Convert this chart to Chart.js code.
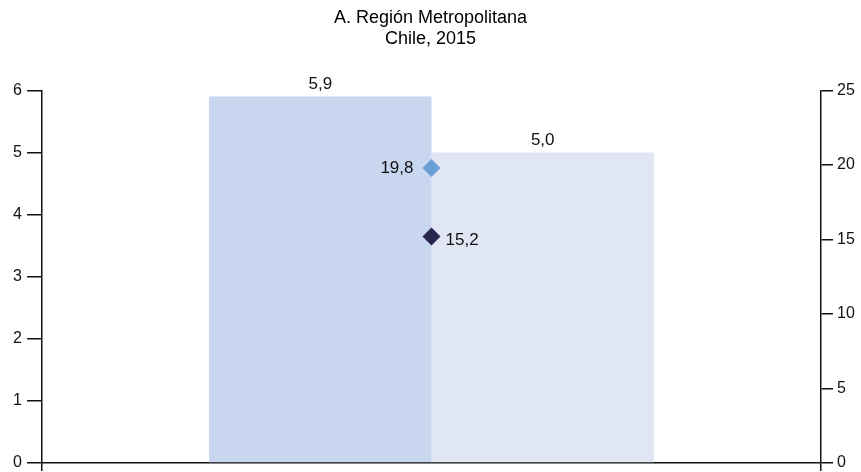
<!DOCTYPE html>
<html>
<head>
<meta charset="utf-8">
<script src="https://cdn.jsdelivr.net/npm/chart.js@4/dist/chart.umd.min.js"></script>
<style>
  html, body { margin: 0; padding: 0; background: #ffffff; }
  canvas { display: block; }
</style>
</head>
<body>
<canvas id="chart" width="861" height="472"></canvas>
<script>
// Data
const categories = [''];
const seriesNames = ['Serie 1', 'Serie 2', 'Serie 3', 'Serie 4'];
const barFirst = [5.9];
const barSecond = [5.0];
const pointLight = [19.8];
const pointDark = [15.2];
const leftTicks = [0, 1, 2, 3, 4, 5, 6];
const rightTicks = [0, 5, 10, 15, 20, 25];
const titleLines = ['A. Región Metropolitana', 'Chile, 2015'];

const FONT = 'Arial, "Liberation Sans", Helvetica, sans-serif';
const fmt = v => v.toFixed(1).replace('.', ',');

// Draws the value next to every bar and marker
const valueLabels = {
  id: 'valueLabels',
  afterDatasetsDraw(chart) {
    const ctx = chart.ctx;
    ctx.save();
    ctx.font = '17px ' + FONT;
    ctx.fillStyle = '#111111';
    chart.data.datasets.forEach((ds, i) => {
      const meta = chart.getDatasetMeta(i);
      meta.data.forEach((el, j) => {
        const txt = fmt(ds.data[j]);
        if (ds.labelPos === 'top') {
          ctx.textAlign = 'center';
          ctx.textBaseline = 'bottom';
          ctx.fillText(txt, el.x, el.y - 4);
        } else if (ds.labelPos === 'left') {
          ctx.textAlign = 'right';
          ctx.textBaseline = 'middle';
          ctx.fillText(txt, el.x - 18, el.y);
        } else {
          ctx.textAlign = 'left';
          ctx.textBaseline = 'middle';
          ctx.fillText(txt, el.x + 14, el.y + 4);
        }
      });
    });
    ctx.restore();
  }
};

const axisColor = '#111111';

// Keeps the vertical axes from reserving extra room under the plot
function fixedWidth(w) {
  return s => { s.width = w; s.paddingBottom = 0; };
}

new Chart(document.getElementById('chart'), {
  type: 'bar',
  data: {
    labels: categories,
    datasets: [
      {
        label: seriesNames[0], data: barFirst, yAxisID: 'y',
        backgroundColor: '#c8d6ef', borderWidth: 0, order: 2, labelPos: 'top',
        categoryPercentage: 0.571, barPercentage: 1.0
      },
      {
        label: seriesNames[1], data: barSecond, yAxisID: 'y',
        backgroundColor: '#e1e6f5', borderWidth: 0, order: 2, labelPos: 'top',
        categoryPercentage: 0.571, barPercentage: 1.0
      },
      {
        type: 'line', label: seriesNames[2], data: pointLight, yAxisID: 'y1',
        showLine: false, pointStyle: 'rectRot', pointRadius: 9, pointBorderWidth: 0,
        backgroundColor: '#6a9fd6', borderColor: '#6a9fd6', order: 1, labelPos: 'left'
      },
      {
        type: 'line', label: seriesNames[3], data: pointDark, yAxisID: 'y1',
        showLine: false, pointStyle: 'rectRot', pointRadius: 9, pointBorderWidth: 0,
        backgroundColor: '#29254f', borderColor: '#29254f', order: 1, labelPos: 'right'
      }
    ]
  },
  options: {
    responsive: false,
    animation: false,
    devicePixelRatio: 1,
    layout: { padding: 0 },
    plugins: {
      legend: { display: false },
      tooltip: { enabled: false },
      title: {
        display: true,
        text: titleLines,
        color: '#000000',
        font: { family: FONT, size: 18, weight: 'normal', lineHeight: 1.15 },
        padding: { top: 8, bottom: 41 }
      }
    },
    scales: {
      x: {
        ticks: { display: false },
        grid: { display: true, drawOnChartArea: false, drawTicks: true, tickLength: 8, color: axisColor, lineWidth: 1.5, offset: true },
        border: { display: true, color: axisColor, width: 1.5 },
        afterFit(s) { s.height = 8; }
      },
      y: {
        position: 'left',
        min: 0, max: 6,
        afterBuildTicks(s) { s.ticks = leftTicks.map(v => ({ value: v })); },
        ticks: { color: '#111111', font: { family: FONT, size: 16 }, padding: 5 },
        grid: { drawOnChartArea: false, drawTicks: true, tickLength: 15, color: axisColor, lineWidth: 1.5 },
        border: { display: true, color: axisColor, width: 1.5 },
        afterFit: fixedWidth(42)
      },
      y1: {
        position: 'right',
        min: 0, max: 25,
        afterBuildTicks(s) { s.ticks = rightTicks.map(v => ({ value: v })); },
        ticks: { color: '#111111', font: { family: FONT, size: 16 }, padding: 4 },
        grid: { drawOnChartArea: false, drawTicks: true, tickLength: 12, color: axisColor, lineWidth: 1.5 },
        border: { display: true, color: axisColor, width: 1.5 },
        afterFit: fixedWidth(40)
      }
    }
  },
  plugins: [valueLabels]
});
</script>
</body>
</html>
